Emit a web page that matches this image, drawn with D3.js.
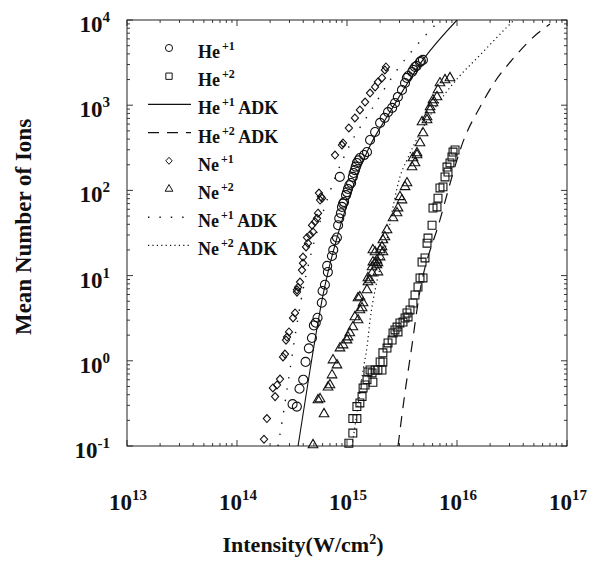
<!DOCTYPE html>
<html>
<head>
<meta charset="utf-8">
<script src="https://cdn.jsdelivr.net/npm/d3@7"></script>
<style>
  body { margin: 0; background: #fff; }
  svg { display: block; }
  text { font-family: "Liberation Serif", "Times New Roman", serif; font-weight: bold; fill: #111; }
</style>
</head>
<body>
<svg id="chart" width="589" height="569"></svg>
<script>
// tick decades
const xTickExps = [13, 14, 15, 16, 17];
const yTickExps = [-1, 0, 1, 2, 3, 4];

// measured points, [intensity W/cm2, mean number of ions]
const he1 = [
  [3.2e14, 0.31], [3.5e14, 0.29], [3.7e14, 0.47], [4.0e14, 0.60], [4.2e14, 0.97], [4.5e14, 1.4],
  [4.8e14, 1.85], [5.0e14, 2.6], [5.2e14, 2.8], [5.4e14, 3.2], [5.9e14, 4.8], [6.0e14, 6.6],
  [6.3e14, 7.8], [6.6e14, 13], [6.7e14, 11], [7.3e14, 17], [7.5e14, 20], [7.8e14, 26], [8.1e14, 28],
  [8.3e14, 39], [8.5e14, 47], [8.8e14, 54], [9.0e14, 64], [9.2e14, 70], [9.4e14, 73], [9.8e14, 88],
  [1.0e15, 95], [1.02e15, 104], [1.05e15, 115], [1.09e15, 122], [1.13e15, 144], [8.6e14, 144],
  [1.15e15, 160], [1.18e15, 173], [1.2e15, 190], [1.23e15, 210], [1.27e15, 225], [1.31e15, 240],
  [1.43e15, 260], [1.52e15, 282], [1.62e15, 390], [1.8e15, 485], [2.0e15, 620], [2.2e15, 710],
  [2.36e15, 830], [2.57e15, 930], [2.73e15, 1060], [2.9e15, 1250], [3.16e15, 1510], [3.37e15, 1820],
  [3.5e15, 2090], [3.6e15, 2200], [3.9e15, 2450], [4.0e15, 2600], [4.15e15, 2810], [4.3e15, 2900],
  [4.6e15, 3210], [4.7e15, 3300], [4.9e15, 3400]
];
const he2 = [
  [1.04e15, 0.108], [1.13e15, 0.142], [1.13e15, 0.21], [1.23e15, 0.21], [1.23e15, 0.29], [1.31e15, 0.32],
  [1.37e15, 0.38], [1.4e15, 0.48], [1.46e15, 0.52], [1.52e15, 0.6], [1.55e15, 0.74], [1.62e15, 0.78],
  [1.69e15, 0.72], [1.72e15, 0.56], [1.8e15, 0.78], [1.91e15, 0.78], [2.0e15, 0.97], [2.12e15, 0.97],
  [2.08e15, 0.78], [2.12e15, 1.24], [2.31e15, 1.41], [2.36e15, 1.62], [2.57e15, 1.75], [2.62e15, 2.12],
  [2.73e15, 2.3], [2.85e15, 2.49], [2.91e15, 2.18], [3.03e15, 2.78], [3.23e15, 2.85], [3.37e15, 3.18],
  [3.51e15, 3.64], [3.59e15, 3.27], [3.74e15, 3.95], [3.98e15, 4.77], [4.15e15, 5.92], [4.42e15, 7.35],
  [4.61e15, 9.4], [4.91e15, 9.4], [4.81e15, 14.4], [5.12e15, 16.1], [5.34e15, 24], [5.45e15, 27.6],
  [5.93e15, 39], [6.05e15, 62], [6.58e15, 64], [6.72e15, 81], [7.0e15, 107], [7.46e15, 110],
  [7.78e15, 144], [8.28e15, 164], [8.11e15, 188], [8.63e15, 210], [9.0e15, 247], [9.2e15, 282],
  [9.6e15, 298]
];
const ne1 = [
  [1.76e14, 0.12], [1.87e14, 0.21], [2.22e14, 0.38], [2.12e14, 0.48], [2.31e14, 0.52], [2.46e14, 0.61],
  [2.62e14, 1.11], [2.73e14, 1.2], [2.79e14, 1.75], [2.85e14, 1.9], [2.97e14, 2.18], [3.23e14, 3.18],
  [3.37e14, 3.64], [3.51e14, 6.8], [3.51e14, 6.4], [3.59e14, 7.3], [3.74e14, 8.4], [3.9e14, 11.6],
  [3.98e14, 14], [3.98e14, 16.5], [4.24e14, 21.7], [4.42e14, 24], [4.33e14, 28], [4.61e14, 30],
  [4.91e14, 32.5], [4.81e14, 39], [5.12e14, 43], [5.34e14, 47], [5.45e14, 54], [5.69e14, 77],
  [5.93e14, 81], [5.8e14, 84], [5.56e14, 93], [7.78e14, 260], [9.2e14, 360], [9.0e14, 341],
  [1.04e15, 540], [1.18e15, 708], [1.31e15, 879], [1.46e15, 1090], [1.62e15, 1390], [1.8e15, 1640],
  [1.91e15, 1870], [2.08e15, 2090], [2.21e15, 2590], [2.26e15, 2810]
];
const ne2 = [
  [4.91e14, 0.103], [6.18e14, 0.238], [5.45e14, 0.347], [5.69e14, 0.356], [6.72e14, 0.49], [7.0e14, 0.52],
  [7.31e14, 0.68], [8.11e14, 0.89], [7.46e14, 1.02], [8.63e14, 1.41], [9.2e14, 1.53], [1.0e15, 1.75],
  [1.02e15, 1.9], [1.06e15, 2.12], [1.13e15, 2.49], [1.18e15, 3.27], [1.26e15, 3.01], [1.31e15, 3.95],
  [1.37e15, 4.17], [1.26e15, 5.46], [1.4e15, 4.77], [1.31e15, 5.61], [1.52e15, 6.78], [1.55e15, 8.41],
  [1.62e15, 8.87], [1.55e15, 9.37], [1.69e15, 10.7], [1.91e15, 11.0], [1.69e15, 12.6], [1.87e15, 13.3],
  [1.91e15, 14.1], [1.72e15, 14.4], [1.8e15, 14.1], [1.87e15, 15.2], [2.0e15, 16.5], [2.12e15, 18.9],
  [1.8e15, 18.9], [1.72e15, 20], [2.0e15, 20], [2.08e15, 21.7], [2.12e15, 26.2], [2.21e15, 28.4],
  [2.31e15, 34.3], [2.62e15, 47.4], [2.85e15, 54.3], [2.91e15, 62], [3.16e15, 77], [3.03e15, 84],
  [3.37e15, 110], [3.51e15, 122], [3.9e15, 188], [4.15e15, 210], [3.98e15, 240], [4.33e15, 260],
  [4.33e15, 275], [4.61e15, 360], [4.91e15, 472], [4.81e15, 635], [5.34e15, 727], [5.34e15, 670],
  [5.69e15, 879], [5.69e15, 952], [6.05e15, 1060], [6.05e15, 1150], [6.58e15, 1250], [6.72e15, 1510],
  [7.0e15, 1820], [7.78e15, 1980], [8.63e15, 2090]
];

// ADK curves
const he1Adk = [
  [3.59e14, 0.1], [4.61e14, 0.78], [6.05e14, 5.9], [9.2e14, 49], [1.55e15, 298],
  [2.46e15, 832], [4.9e15, 3400], [1.0e16, 1e4]
];
const he2Adk = [
  [2.91e15, 0.1], [3.37e15, 0.43], [3.9e15, 1.53], [4.42e15, 4.8], [7.0e15, 45], [1.18e16, 424],
  [1.62e16, 952], [2.2e16, 1870], [3.16e16, 3400], [5.45e16, 7030], [7.0e16, 8980]
];
const ne1Adk = [
  [2.36e14, 0.1], [2.67e14, 0.265], [3.03e14, 0.78], [3.44e14, 2.3], [3.98e14, 6.78], [4.81e14, 20],
  [5.93e14, 51], [7.78e14, 140], [1.06e15, 341], [1.62e15, 832], [2.85e15, 2590], [4.33e15, 5090],
  [7.0e15, 1e4]
];
const ne2Adk = [
  [1.11e15, 0.1], [1.26e15, 0.3], [1.4e15, 0.78], [1.52e15, 1.45], [1.62e15, 3.01], [1.8e15, 6.78],
  [2.0e15, 12.3], [2.21e15, 20], [2.62e15, 64], [3.03e15, 144], [3.51e15, 228], [4.61e15, 472],
  [6.31e15, 927], [1.02e16, 2090], [1.62e16, 3880], [2.85e16, 8280], [3.3e16, 1e4]
];

const legendRows = [
  { ion: "He", charge: "+1", adk: false, key: "circle" },
  { ion: "He", charge: "+2", adk: false, key: "square" },
  { ion: "He", charge: "+1", adk: true, key: "solid" },
  { ion: "He", charge: "+2", adk: true, key: "dashed" },
  { ion: "Ne", charge: "+1", adk: false, key: "diamond" },
  { ion: "Ne", charge: "+2", adk: false, key: "triangle" },
  { ion: "Ne", charge: "+1", adk: true, key: "sparse" },
  { ion: "Ne", charge: "+2", adk: true, key: "dotted" }
];

const svg = d3.select("#chart");
const plotL = 127, plotR = 567, plotT = 20, plotB = 446;

const x = d3.scaleLog().domain([1e13, 1e17]).range([plotL, plotR]);
const y = d3.scaleLog().domain([0.1, 1e4]).range([plotB, plotT]);

const diamondType = {
  draw(ctx, size) {
    const h = Math.sqrt(size) / 2;
    ctx.moveTo(0, -h * 1.1); ctx.lineTo(h, 0); ctx.lineTo(0, h * 1.1); ctx.lineTo(-h, 0); ctx.closePath();
  }
};
const markerTypes = {
  circle: d3.symbolCircle, square: d3.symbolSquare, diamond: diamondType, triangle: d3.symbolTriangle
};
const lineStyles = {
  solid: { dash: null, width: 1.1 },
  dashed: { dash: "11,8", width: 1.2 },
  sparse: { dash: "1.4,10", width: 1.4 },
  dotted: { dash: "1.2,3.2", width: 1.2 }
};

svg.append("clipPath").attr("id", "plot-clip")
  .append("rect").attr("x", plotL).attr("y", plotT).attr("width", plotR - plotL).attr("height", plotB - plotT);

// ticks on four sides, pointing in
const xt = x.ticks();
const yt = y.ticks();
const isMajor = v => Math.abs(Math.log10(v) - Math.round(Math.log10(v))) < 1e-6;
const tg = svg.append("g").attr("stroke", "#222").attr("stroke-width", 0.9);
xt.forEach(v => {
  const len = isMajor(v) ? 6 : 3;
  tg.append("line").attr("x1", x(v)).attr("x2", x(v)).attr("y1", plotB).attr("y2", plotB - len);
  tg.append("line").attr("x1", x(v)).attr("x2", x(v)).attr("y1", plotT).attr("y2", plotT + len);
});
yt.forEach(v => {
  const len = isMajor(v) ? 6 : 3;
  tg.append("line").attr("y1", y(v)).attr("y2", y(v)).attr("x1", plotL).attr("x2", plotL + len);
  tg.append("line").attr("y1", y(v)).attr("y2", y(v)).attr("x1", plotR).attr("x2", plotR - len);
});

svg.append("rect").attr("x", plotL).attr("y", plotT).attr("width", plotR - plotL).attr("height", plotB - plotT)
  .attr("fill", "none").attr("stroke", "#222").attr("stroke-width", 1);

// tick labels
xTickExps.forEach(e => {
  const t = svg.append("text").attr("x", x(Math.pow(10, e)) + 1).attr("y", 510)
    .attr("text-anchor", "middle").attr("font-size", 23);
  t.append("tspan").text("10");
  t.append("tspan").attr("dy", -10).attr("font-size", 15).text(e);
});
yTickExps.forEach(e => {
  const t = svg.append("text").attr("x", 110).attr("y", y(Math.pow(10, e)) + 12)
    .attr("text-anchor", "end").attr("font-size", 23);
  t.append("tspan").text("10");
  t.append("tspan").attr("dy", -10).attr("font-size", 15).text(e);
});

// axis titles
const xTitle = svg.append("text").attr("x", 303).attr("y", 552).attr("text-anchor", "middle").attr("font-size", 22);
xTitle.append("tspan").text("Intensity(W/cm");
xTitle.append("tspan").attr("dy", -8).attr("font-size", 14).text("2");
xTitle.append("tspan").attr("dy", 8).text(")");

svg.append("text").attr("transform", "translate(31,227) rotate(-90)")
  .attr("text-anchor", "middle").attr("font-size", 23).text("Mean Number of Ions");

// ADK curves
const line = d3.line().x(d => x(d[0])).y(d => y(d[1])).curve(d3.curveMonotoneX);
const curves = [[he1Adk, "solid"], [he2Adk, "dashed"], [ne1Adk, "sparse"], [ne2Adk, "dotted"]];
const cg = svg.append("g").attr("clip-path", "url(#plot-clip)");
curves.forEach(([data, style]) => {
  cg.append("path").datum(data).attr("d", line)
    .attr("fill", "none").attr("stroke", "#111")
    .attr("stroke-width", lineStyles[style].width)
    .attr("stroke-dasharray", lineStyles[style].dash);
});

// data points
const series = [[he1, "circle", 64], [he2, "square", 62], [ne1, "diamond", 52], [ne2, "triangle", 40]];
series.forEach(([data, kind, size]) => {
  svg.append("g").selectAll("path").data(data).enter().append("path")
    .attr("transform", d => `translate(${x(d[0])},${y(d[1])})`)
    .attr("d", d3.symbol().type(markerTypes[kind]).size(size))
    .attr("fill", "none").attr("stroke", "#111").attr("stroke-width", 1.1);
});

// legend
const lg = svg.append("g");
legendRows.forEach((r, i) => {
  const cy = 48 + i * 28.2;
  if (markerTypes[r.key]) {
    lg.append("path").attr("transform", `translate(169,${cy})`)
      .attr("d", d3.symbol().type(markerTypes[r.key]).size(r.key === "triangle" ? 26 : 40))
      .attr("fill", "none").attr("stroke", "#111").attr("stroke-width", 1);
  } else {
    lg.append("line").attr("x1", 148).attr("x2", 191).attr("y1", cy).attr("y2", cy)
      .attr("stroke", "#111").attr("stroke-width", lineStyles[r.key].width)
      .attr("stroke-dasharray", lineStyles[r.key].dash);
  }
  const t = lg.append("text").attr("x", 198).attr("y", cy + 10).attr("font-size", 18);
  t.append("tspan").text(r.ion);
  t.append("tspan").attr("dy", -8).attr("font-size", 12).attr("dx", 2).text(r.charge);
  if (r.adk) t.append("tspan").attr("dy", 8).text(" ADK");
});
</script>
</body>
</html>
